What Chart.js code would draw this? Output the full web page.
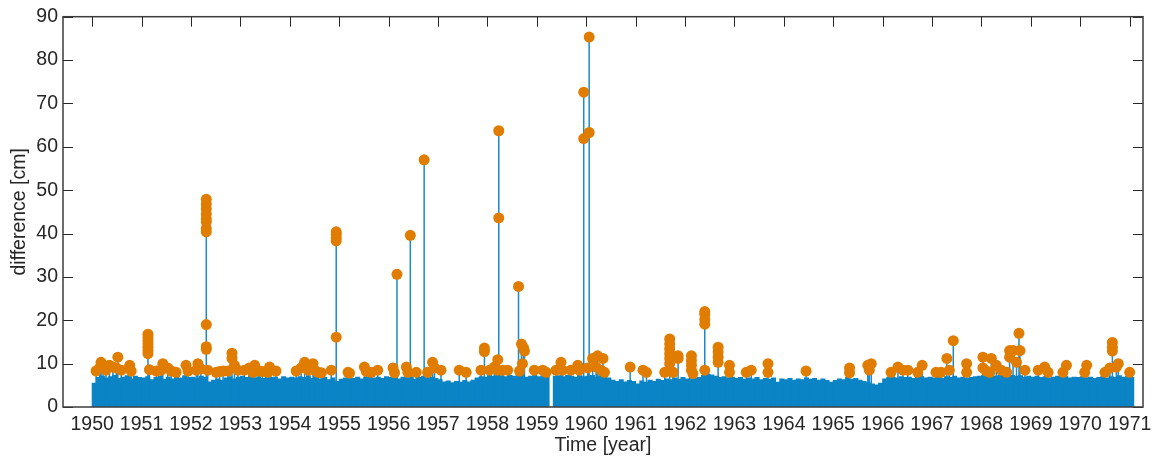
<!DOCTYPE html>
<html>
<head>
<meta charset="utf-8">
<script src="https://cdn.jsdelivr.net/npm/chart.js@4"></script>
<style>
    html, body { margin: 0; padding: 0; background: #ffffff; }
    canvas { display: block; }
</style>
</head>
<body>
<canvas id="chart" width="1158" height="459"></canvas>
<script>
// monthly envelope of the dense blue band, Jan 1950 .. Jan 1971
const bandStartYear = 1950;
const bandValues = [
    5.6, 6.9, 7.2, 6.8, 7.1, 7.4, 6.7, 7.0, 7.3, 6.6, 7.2, 6.9,
    6.8, 7.1, 6.4, 6.9, 7.2, 6.5, 7.0, 6.6, 7.1, 6.8, 7.3, 6.9,
    7.0, 6.7, 7.2, 6.9, 5.9, 6.3, 6.6, 6.2, 6.8, 7.1, 6.6, 7.0,
    7.2, 6.9, 7.3, 6.8, 7.1, 6.7, 7.2, 6.9, 7.0, 6.6, 7.1, 6.8,
    7.0, 6.8, 7.1, 6.9, 7.3, 6.7, 7.0, 6.6, 6.9, 6.4, 6.8, 6.0,
    6.5, 6.8, 7.1, 6.7, 7.0, 6.6, 6.9, 7.2, 6.8, 7.0, 6.7, 7.1,
    6.9, 7.2, 6.6, 7.0, 6.8, 7.1, 6.5, 6.9, 7.2, 6.8, 7.0, 6.7,
    6.4, 5.9, 6.1, 5.7, 6.0, 5.8, 6.2, 5.9, 6.3, 6.8, 7.1, 7.0,
    7.4, 7.2, 7.5, 7.3, 7.1, 7.4, 7.2, 7.5, 7.3, 7.0, 7.2, 7.4,
    7.1, 7.3, 7.0, 0.0, 7.2, 7.3, 7.1, 7.4, 7.2, 7.0, 7.3, 7.1,
    7.2, 7.4, 7.0, 7.3, 7.1, 6.8, 6.3, 6.0, 6.4, 5.9, 6.2, 6.0,
    5.4, 6.1, 5.8, 6.3, 6.0, 6.5, 6.2, 6.6, 6.4, 6.8, 6.5, 6.9,
    6.6, 7.0, 6.7, 6.9, 7.4, 7.7, 7.5, 7.2, 6.9, 7.1, 6.8, 7.0,
    6.7, 6.9, 6.5, 6.8, 6.6, 6.9, 6.4, 6.7, 6.5, 6.8, 5.8, 6.6,
    6.4, 6.7, 6.3, 6.6, 6.4, 6.8, 6.5, 6.7, 6.3, 6.6, 6.2, 5.8,
    6.2, 6.6, 6.4, 6.9, 6.5, 6.7, 6.3, 6.0, 5.7, 5.4, 5.2, 5.6,
    6.6, 6.9, 7.0, 6.8, 7.1, 6.9, 7.0, 6.7, 6.9, 7.1, 6.8, 7.0,
    6.8, 7.0, 6.7, 7.1, 6.9, 7.2, 6.8, 7.0, 6.7, 6.9, 7.1, 7.2,
    7.3, 7.1, 7.4, 7.2, 7.5, 7.3, 7.1, 7.4, 7.2, 7.3, 7.0, 7.2,
    7.0, 7.2, 6.9, 7.1, 6.8, 7.0, 7.2, 6.9, 7.1, 6.8, 7.0, 6.9,
    7.1, 6.8, 7.0, 6.7, 6.9, 7.2, 6.8, 7.1, 6.9, 7.3, 7.0, 7.2,
    6.9
];

// exceedances (orange markers): time in decimal years and difference in cm
const outlierYears = [
    1950.08, 1950.15, 1950.18, 1950.22, 1950.28, 1950.35, 1950.42, 1950.49, 1950.52, 1950.59, 1950.76, 1950.79,
    1951.13, 1951.13, 1951.13, 1951.13, 1951.13, 1951.13, 1951.13,
    1951.16, 1951.30, 1951.40, 1951.43, 1951.53, 1951.60, 1951.70, 1951.90, 1951.94,
    1952.11, 1952.14, 1952.20,
    1952.31, 1952.31, 1952.31, 1952.31, 1952.31, 1952.31, 1952.31, 1952.31, 1952.31, 1952.31, 1952.31,
    1952.34, 1952.51, 1952.58, 1952.65, 1952.75, 1952.83, 1952.83, 1952.88, 1952.95,
    1953.08, 1953.18, 1953.25, 1953.29, 1953.38, 1953.45, 1953.56, 1953.59, 1953.72,
    1954.13, 1954.23, 1954.30, 1954.37, 1954.47, 1954.50, 1954.57, 1954.64, 1954.84,
    1954.94, 1954.94, 1954.94, 1954.94, 1954.94,
    1955.18, 1955.21, 1955.51, 1955.55, 1955.65, 1955.78,
    1956.09, 1956.12, 1956.17, 1956.36, 1956.39, 1956.44, 1956.56, 1956.72, 1956.79, 1956.89, 1956.93,
    1957.06, 1957.43, 1957.57, 1957.87, 1957.94, 1957.94,
    1958.04, 1958.14, 1958.21, 1958.21, 1958.23, 1958.23, 1958.31, 1958.41,
    1958.63, 1958.65, 1958.69, 1958.71, 1958.73, 1958.75, 1958.95,
    1959.12, 1959.19, 1959.39, 1959.49, 1959.52, 1959.69, 1959.83, 1959.86, 1959.95, 1959.95,
    1960.03, 1960.06, 1960.06, 1960.13, 1960.20, 1960.23, 1960.30, 1960.34, 1960.37, 1960.89,
    1961.15, 1961.22, 1961.59, 1961.69, 1961.69, 1961.69, 1961.69, 1961.69, 1961.69, 1961.76, 1961.86, 1961.86,
    1962.13, 1962.13, 1962.13, 1962.13, 1962.16, 1962.40, 1962.40, 1962.40, 1962.40, 1962.40,
    1962.67, 1962.67, 1962.67, 1962.67, 1962.90, 1962.90,
    1963.24, 1963.34, 1963.68, 1963.68,
    1964.45, 1965.33, 1965.33, 1965.70, 1965.73, 1965.77,
    1966.17, 1966.31, 1966.41, 1966.51, 1966.71, 1966.80,
    1967.08, 1967.18, 1967.30, 1967.35, 1967.43, 1967.70, 1967.70,
    1968.03, 1968.03, 1968.10, 1968.17, 1968.20, 1968.30, 1968.40, 1968.51, 1968.57, 1968.57, 1968.64, 1968.71, 1968.76, 1968.78, 1968.88,
    1969.15, 1969.28, 1969.35, 1969.65, 1969.72,
    1970.09, 1970.13, 1970.50, 1970.60, 1970.65, 1970.65, 1970.65, 1970.73, 1970.77, 1971.00
];
const outlierValues = [
    8.3, 9.0, 10.3, 9.6, 8.5, 9.6, 9.2, 9.0, 11.5, 8.5, 9.6, 8.3,
    16.8, 16.0, 15.3, 14.5, 13.8, 13.0, 12.3,
    8.6, 8.3, 8.5, 10.0, 9.0, 8.3, 8.0, 9.6, 8.3,
    8.5, 10.0, 8.8,
    47.9, 46.8, 45.7, 44.5, 43.4, 42.7, 41.2, 40.4, 19.0, 13.9, 13.3,
    8.5, 8.0, 8.2, 8.3, 8.3, 12.4, 11.2, 9.6, 8.5,
    8.5, 9.0, 8.0, 9.6, 8.3, 8.2, 8.0, 9.2, 8.3,
    8.3, 9.0, 10.3, 8.5, 10.0, 8.5, 8.0, 7.9, 8.5,
    40.4, 39.8, 39.0, 38.3, 16.1,
    8.0, 7.8, 9.2, 8.2, 8.0, 8.5,
    9.0, 7.9, 30.6, 9.2, 8.0, 39.6, 8.0, 57.0, 8.0, 10.3, 9.0,
    8.5, 8.5, 8.0, 8.5, 13.6, 12.8,
    8.5, 9.2, 10.9, 8.5, 63.7, 43.6, 8.5, 8.5,
    27.8, 8.3, 14.5, 10.0, 13.7, 12.9, 8.5,
    8.5, 8.0, 8.5, 10.3, 8.5, 8.5, 9.6, 8.5, 72.6, 61.9,
    9.0, 85.3, 63.3, 11.2, 9.2, 11.8, 8.5, 11.2, 8.0, 9.2,
    8.5, 8.0, 8.0, 15.7, 14.5, 13.4, 12.3, 11.2, 10.0, 8.0, 11.8, 11.2,
    11.8, 10.7, 9.6, 8.5, 7.7, 22.0, 21.4, 20.2, 19.1, 8.5,
    13.8, 12.7, 11.5, 10.3, 9.6, 8.0,
    8.0, 8.5, 10.0, 8.0,
    8.3, 9.0, 7.9, 9.6, 8.5, 10.0,
    8.0, 9.2, 8.5, 8.5, 8.0, 9.6,
    8.0, 8.0, 11.2, 8.5, 15.3, 10.0, 8.0,
    11.5, 9.0, 8.3, 8.0, 11.2, 9.6, 8.5, 8.0, 11.5, 13.0, 13.0, 10.3, 17.0, 13.0, 8.5,
    8.5, 9.2, 8.0, 8.0, 9.6,
    8.0, 9.6, 8.0, 9.0, 14.9, 13.8, 12.9, 9.2, 10.0, 8.0
];

const yearTicks = { min: 1949.41, max: 1971.27, step: 1 };
const diffTicks = { min: 0, max: 90, step: 10 };

const blue = '#0b84c6';
const orange = '#e07c00';
const ink = '#262626';

function buildBand(values, startYear) {
    return values.map((v, i) => ({ x: startYear + (i + 0.5) / 12, y: v }));
}

function buildStems(years, values) {
    const pts = [];
    years.forEach((x, i) => {
        pts.push({ x: x, y: 0 });
        pts.push({ x: x, y: values[i] });
        pts.push({ x: x, y: null });
    });
    return pts;
}

// matlab style box with inward ticks
const boxTicks = {
    id: 'boxTicks',
    beforeDatasetsDraw(chart) {
        const ctx = chart.ctx;
        const a = chart.chartArea;
        const xs = chart.scales.x;
        ctx.save();
        ctx.strokeStyle = ink;
        ctx.lineWidth = 1;
        xs.ticks.forEach(t => {
            const px = Math.round(xs.getPixelForValue(t.value)) + 0.5;
            ctx.beginPath();
            ctx.moveTo(px, a.bottom);
            ctx.lineTo(px, a.bottom - 10);
            ctx.stroke();
        });
        ctx.restore();
    },
    afterDatasetsDraw(chart) {
        const ctx = chart.ctx;
        const a = chart.chartArea;
        const xs = chart.scales.x;
        const ys = chart.scales.y;
        ctx.save();
        ctx.strokeStyle = ink;
        ctx.lineWidth = 1;
        xs.ticks.forEach(t => {
            const px = Math.round(xs.getPixelForValue(t.value)) + 0.5;
            ctx.beginPath();
            ctx.moveTo(px, a.top);
            ctx.lineTo(px, a.top + 10);
            ctx.stroke();
        });
        ys.ticks.forEach(t => {
            const py = Math.round(ys.getPixelForValue(t.value)) + 0.5;
            ctx.beginPath();
            ctx.moveTo(a.left, py);
            ctx.lineTo(a.left + 10, py);
            ctx.moveTo(a.right, py);
            ctx.lineTo(a.right - 10, py);
            ctx.stroke();
        });
        ctx.strokeStyle = '#3c3c3c';
        ctx.lineWidth = 1.5;
        ctx.strokeRect(a.left, a.top, a.right - a.left, a.bottom - a.top);
        ctx.restore();
    }
};

Chart.defaults.font.family = "'Liberation Sans', Arial, sans-serif";
Chart.defaults.font.size = 19.5;
Chart.defaults.color = ink;

const ctx = document.getElementById('chart').getContext('2d');
const chart = new Chart(ctx, {
    type: 'bar',
    data: {
        datasets: [
            {
                type: 'scatter',
                label: 'exceedance',
                data: outlierYears.map((x, i) => ({ x: x, y: outlierValues[i] })),
                backgroundColor: orange,
                borderWidth: 0,
                pointRadius: 5.5,
                order: 0
            },
            {
                type: 'bar',
                label: 'difference',
                data: buildBand(bandValues, bandStartYear),
                backgroundColor: blue,
                borderWidth: 0,
                inflateAmount: 0,
                grouped: false,
                barThickness: 5,
                order: 1
            },
            {
                // stems sit under the band, so only the tall ones show
                type: 'line',
                label: 'stems',
                data: buildStems(outlierYears, outlierValues),
                borderColor: '#1a8acb',
                borderWidth: 1.5,
                pointRadius: 0,
                spanGaps: false,
                fill: false,
                order: 2
            }
        ]
    },
    options: {
        responsive: false,
        animation: false,
        devicePixelRatio: 1,
        layout: {
            padding: { top: 13, right: 15, left: 0, bottom: 0 }
        },
        scales: {
            x: {
                type: 'linear',
                min: yearTicks.min,
                max: yearTicks.max,
                offset: false,
                grid: { display: false, drawTicks: false },
                border: { display: false },
                ticks: {
                    stepSize: yearTicks.step,
                    includeBounds: false,
                    autoSkip: false,
                    maxRotation: 0,
                    padding: 6,
                    callback: value => value.toString()
                },
                title: {
                    display: true,
                    text: 'Time [year]',
                    padding: { top: 0, bottom: 2 }
                },
                afterFit: scale => { scale.height = 52; }
            },
            y: {
                min: diffTicks.min,
                max: diffTicks.max,
                grid: { display: false, drawTicks: false },
                border: { display: false },
                ticks: {
                    stepSize: diffTicks.step,
                    padding: 5
                },
                title: {
                    display: true,
                    text: 'difference [cm]',
                    padding: { top: 8, bottom: 0 }
                },
                afterFit: scale => { scale.width = 63; }
            }
        },
        plugins: {
            legend: { display: false },
            tooltip: { enabled: false }
        }
    },
    plugins: [boxTicks]
});
</script>
</body>
</html>
